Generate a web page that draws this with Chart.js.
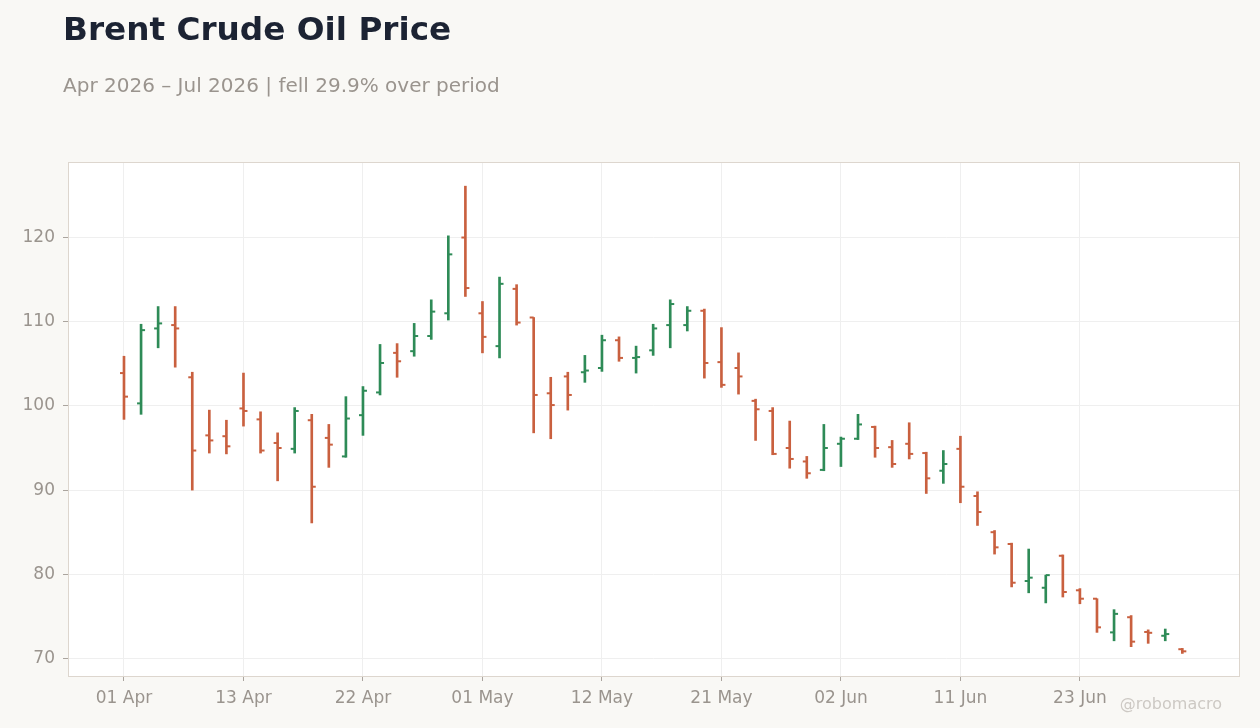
<!DOCTYPE html>
<html>
<head>
<meta charset="utf-8">
<script src="https://cdn.jsdelivr.net/npm/chart.js@4.4.1/dist/chart.umd.min.js"></script>
<style>
  html, body { margin: 0; padding: 0; background: #f9f8f5; width: 1260px; height: 728px; overflow: hidden; font-family: "DejaVu Sans", sans-serif; }
  #title { position: absolute; left: 63px; top: 13px; font-size: 32.7px; line-height: 32px; font-weight: bold; color: #1c2333; white-space: nowrap; }
  #subtitle { position: absolute; left: 63px; top: 75px; font-size: 20px; line-height: 20px; color: #9a948e; white-space: nowrap; }
  #wm { position: absolute; right: 38px; top: 696px; font-size: 16px; line-height: 16px; color: #cdc9c4; white-space: nowrap; }
  #wrap { position: absolute; left: 0; top: 0; width: 1260px; height: 728px; }
</style>
</head>
<body>
<div id="wrap"><canvas id="c" width="1260" height="728"></canvas></div>
<div id="title">Brent Crude Oil Price</div>
<div id="subtitle">Apr 2026 – Jul 2026 | fell 29.9% over period</div>
<div id="wm">@robomacro</div>
<script>
const dates = [
  "01 Apr","02 Apr","06 Apr","07 Apr","08 Apr","09 Apr","10 Apr","13 Apr","14 Apr","15 Apr",
  "16 Apr","17 Apr","20 Apr","21 Apr","22 Apr","23 Apr","24 Apr","27 Apr","28 Apr","29 Apr",
  "30 Apr","01 May","04 May","05 May","06 May","07 May","08 May","11 May","12 May","13 May",
  "14 May","15 May","18 May","19 May","20 May","21 May","22 May","26 May","27 May","28 May",
  "29 May","01 Jun","02 Jun","03 Jun","04 Jun","05 Jun","08 Jun","09 Jun","10 Jun","11 Jun",
  "12 Jun","15 Jun","16 Jun","17 Jun","18 Jun","22 Jun","23 Jun","24 Jun","25 Jun","26 Jun",
  "29 Jun","30 Jun","01 Jul"
];
const openP = [
  103.9,100.3,109.2,109.6,103.4,96.5,96.4,99.7,98.4,95.6,
  94.9,98.3,96.2,94.0,98.9,101.6,106.3,106.5,108.3,111.0,
  120.0,111.0,107.1,113.9,110.5,101.5,103.5,104.0,104.5,107.8,
  105.7,106.6,109.6,109.6,111.3,105.2,104.5,100.6,99.4,95.0,
  93.4,92.4,95.5,96.1,97.5,95.1,95.5,94.4,92.3,94.9,
  89.3,85.0,83.6,79.2,78.4,82.2,78.1,77.1,73.1,74.9,
  73.15,72.7,71.1
];
const highP = [
  105.9,109.7,111.8,111.8,104.0,99.5,98.3,103.9,99.3,96.8,
  99.8,99.0,97.8,101.1,102.3,107.3,107.4,109.8,112.6,120.2,
  126.1,112.4,115.3,114.4,110.5,103.4,104.0,106.0,108.4,108.2,
  107.1,109.7,112.6,111.8,111.5,109.3,106.3,100.8,99.8,98.2,
  94.0,97.8,96.3,99.0,97.6,95.9,98.0,94.5,94.7,96.4,
  89.8,85.2,83.7,83.0,79.9,82.3,78.3,77.1,75.8,75.1,
  73.4,73.5,71.2
];
const lowP = [
  98.4,99.0,106.9,104.6,90.0,94.4,94.3,97.6,94.4,91.1,
  94.4,86.1,92.7,93.9,96.5,101.3,103.4,105.9,107.9,110.2,
  113.0,106.3,105.7,109.6,96.8,96.1,99.5,102.8,104.1,105.3,
  103.9,106.0,106.9,108.9,103.3,102.2,101.4,95.9,94.2,92.6,
  91.4,92.3,92.8,96.0,93.9,92.7,93.7,89.6,90.8,88.5,
  85.8,82.4,78.5,77.8,76.6,77.3,76.5,73.1,72.1,71.4,
  71.8,72.1,70.6
];
const closeP = [
  101.1,109.0,109.8,109.2,94.7,95.9,95.2,99.4,94.7,95.0,
  99.4,90.4,95.4,98.5,101.8,105.1,105.3,108.3,111.2,118.0,
  114.0,108.2,114.5,109.9,101.3,100.1,101.3,104.2,107.8,105.7,
  105.8,109.2,112.1,111.3,105.1,102.5,103.5,99.6,94.3,93.7,
  92.0,95.0,96.1,97.8,95.0,93.1,94.3,91.4,93.1,90.4,
  87.4,83.2,79.0,79.6,79.9,77.9,77.1,73.7,75.3,72.0,
  73.05,72.9,70.85
];

const UP = '#2e8b57', DOWN = '#c9603f';
const colors = closeP.map((c, i) => c >= openP[i] ? UP : DOWN);

const rangeData = dates.map((d, i) => ({ x: i, y: [lowP[i], highP[i]] }));
const openData = dates.map((d, i) => ({ x: i, y: openP[i] }));
const closeData = dates.map((d, i) => ({ x: i, y: closeP[i] }));

const frame = {
  id: 'frame',
  beforeDraw(chart) {
    const { ctx, chartArea: a } = chart;
    ctx.save();
    ctx.fillStyle = '#ffffff';
    ctx.fillRect(a.left, a.top, a.width, a.height);
    ctx.restore();
  },
  afterDraw(chart) {
    const { ctx, chartArea: a } = chart;
    ctx.save();
    ctx.strokeStyle = '#ddd6ce';
    ctx.lineWidth = 1;
    ctx.strokeRect(a.left + 0.5, a.top + 0.5, a.width, a.height);
    ctx.restore();
  }
};

const tickFont = { family: 'DejaVu Sans', size: 17 };

new Chart(document.getElementById('c'), {
  type: 'bar',
  data: {
    datasets: [
      { type: 'bar', data: rangeData, backgroundColor: colors, borderWidth: 0, barThickness: 2, order: 2 },
      { type: 'line', data: openData, showLine: false, pointStyle: 'dash', pointRotation: 180, pointRadius: 4,
        pointBorderWidth: 2, pointBorderColor: colors, pointBackgroundColor: colors, order: 1 },
      { type: 'line', data: closeData, showLine: false, pointStyle: 'dash', pointRotation: 0, pointRadius: 4,
        pointBorderWidth: 2, pointBorderColor: colors, pointBackgroundColor: colors, order: 1 }
    ]
  },
  options: {
    responsive: false,
    animation: false,
    events: [],
    layout: { padding: { top: 162, right: 21, bottom: 12, left: 0 } },
    plugins: { legend: { display: false }, tooltip: { enabled: false }, title: { display: false } },
    scales: {
      x: {
        type: 'linear',
        min: -3.28,
        max: 65.32,
        offset: false,
        grid: { offset: false, color: '#efefef', tickColor: '#aaa49e', tickLength: 5, drawTicks: true },
        border: { display: false },
        ticks: {
          stepSize: 7, includeBounds: false, autoSkip: false, maxRotation: 0, minRotation: 0,
          font: tickFont, color: '#9a948e', padding: 7,
          callback: (v) => dates[v] ?? ''
        },
        afterBuildTicks: (s) => { s.ticks = s.ticks.filter(t => Number.isInteger(t.value) && t.value >= 0 && t.value < dates.length); },
        afterFit: (s) => { s.height = 40; }
      },
      y: {
        type: 'linear',
        min: 67.92,
        max: 128.97,
        grid: { color: '#efefef', tickColor: '#aaa49e', tickLength: 5, drawTicks: true },
        border: { display: false },
        ticks: { stepSize: 10, includeBounds: false, font: tickFont, color: '#9a948e', padding: 8 },
        afterFit: (s) => { s.width = 68; }
      }
    }
  },
  plugins: [frame]
});
</script>
</body>
</html>
